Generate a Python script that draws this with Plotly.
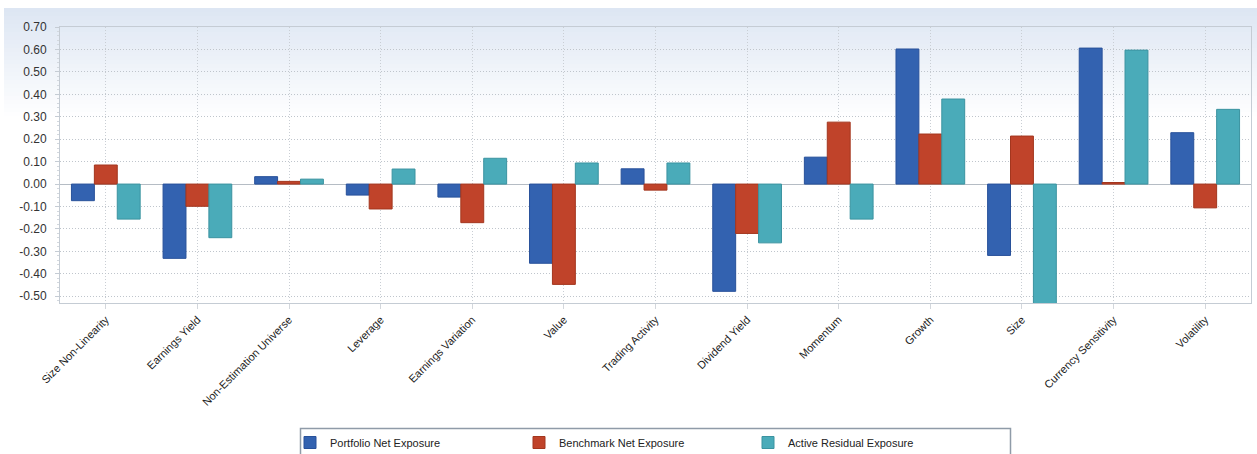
import plotly.graph_objects as go

# Style factors on the x axis
factors = [
    "Size Non-Linearity", "Earnings Yield", "Non-Estimation Universe", "Leverage",
    "Earnings Variation", "Value", "Trading Activity", "Dividend Yield",
    "Momentum", "Growth", "Size", "Currency Sensitivity", "Volatility",
]

# Exposure per factor
portfolio_net = [-0.074, -0.331, 0.033, -0.049, -0.058, -0.353, 0.068, -0.478,
                 0.120, 0.602, -0.318, 0.606, 0.229]
benchmark_net = [0.085, -0.099, 0.012, -0.111, -0.172, -0.447, -0.027, -0.220,
                 0.276, 0.223, 0.214, 0.007, -0.106]
active_residual = [-0.156, -0.239, 0.022, 0.067, 0.115, 0.094, 0.094, -0.262,
                   -0.156, 0.379, -0.560, 0.597, 0.333]

y_ticks = [0.70, 0.60, 0.50, 0.40, 0.30, 0.20, 0.10, 0.00,
           -0.10, -0.20, -0.30, -0.40, -0.50]

series = [
    ("Portfolio Net Exposure", portfolio_net, "#3362b0", "#28519a"),
    ("Benchmark Net Exposure", benchmark_net, "#c0432a", "#a3361e"),
    ("Active Residual Exposure", active_residual, "#4aabb9", "#3b93a0"),
]

fig = go.Figure()
for name, vals, fill, edge in series:
    fig.add_trace(go.Bar(
        x=factors, y=vals, name=name,
        marker=dict(color=fill, line=dict(color=edge, width=1)),
    ))

# pixel helpers for placing things in paper coordinates
W, H = 1257, 454
L, R, T, B = 60, 6, 27, 151
pw, ph = W - L - R, H - T - B


def px_x(p):
    return (p - L) / pw


def px_y(p):
    return (H - B - p) / ph


# soft blue-to-white wash behind the top of the chart
shapes = []
top_px, fade_px = 8, 120
c0 = (221, 230, 243)
steps = 28
for i in range(steps):
    y0 = top_px + (fade_px - top_px) * i / steps
    y1 = top_px + (fade_px - top_px) * (i + 1) / steps
    t = i / (steps - 1)
    c = tuple(round(c0[k] + (255 - c0[k]) * t) for k in range(3))
    shapes.append(dict(
        type="rect", xref="paper", yref="paper", layer="below",
        x0=px_x(4), x1=px_x(W), y0=px_y(y1), y1=px_y(y0),
        fillcolor="rgb(%d,%d,%d)" % c, line=dict(width=0),
    ))

# legend frame
shapes.append(dict(
    type="rect", xref="paper", yref="paper", layer="above",
    x0=px_x(300.5), x1=px_x(1010.5), y0=px_y(462), y1=px_y(428.5),
    fillcolor="rgba(0,0,0,0)", line=dict(color="#8f9ba8", width=1.5),
))

fig.update_layout(
    width=W, height=H,
    margin=dict(l=L, r=R, t=T, b=B, pad=0, autoexpand=False),
    paper_bgcolor="white",
    plot_bgcolor="rgba(0,0,0,0)",
    barmode="group", bargap=0.25, bargroupgap=0.0,
    shapes=shapes,
    font=dict(family="Liberation Sans, Arial, sans-serif", size=11, color="#333333"),
    legend=dict(
        orientation="h", x=px_x(290), xanchor="left", y=px_y(428), yanchor="top",
        borderwidth=0, bgcolor="rgba(0,0,0,0)",
        entrywidth=184, entrywidthmode="pixels",
        font=dict(size=11, color="#222222"),
        itemclick=False,
    ),
    xaxis=dict(
        tickangle=-45, tickfont=dict(size=11, color="#222222"),
        showgrid=True, gridcolor="#c9ced4", griddash="1px,2px", gridwidth=1,
        ticks="outside", ticklen=5, tickcolor="#d3d7dc",
        showline=True, linecolor="#c5ccd4", linewidth=1, mirror=True,
    ),
    yaxis=dict(
        range=[-0.53, 0.70], tickvals=y_ticks,
        ticktext=["%.2f" % v for v in y_ticks],
        tickfont=dict(size=12, color="#333333"),
        ticklabelstandoff=6,
        showgrid=True, gridcolor="#bfc5cc", griddash="1px,2px", gridwidth=1,
        zeroline=True, zerolinecolor="#b5bcc4", zerolinewidth=1,
        ticks="outside", ticklen=4, tickcolor="#c5ccd4",
        minor=dict(dtick=0.02, ticks="outside", ticklen=2, tickcolor="#d3d8de", showgrid=False),
        showline=True, linecolor="#c5ccd4", linewidth=1, mirror=True,
    ),
)

fig.write_html("out.html")
